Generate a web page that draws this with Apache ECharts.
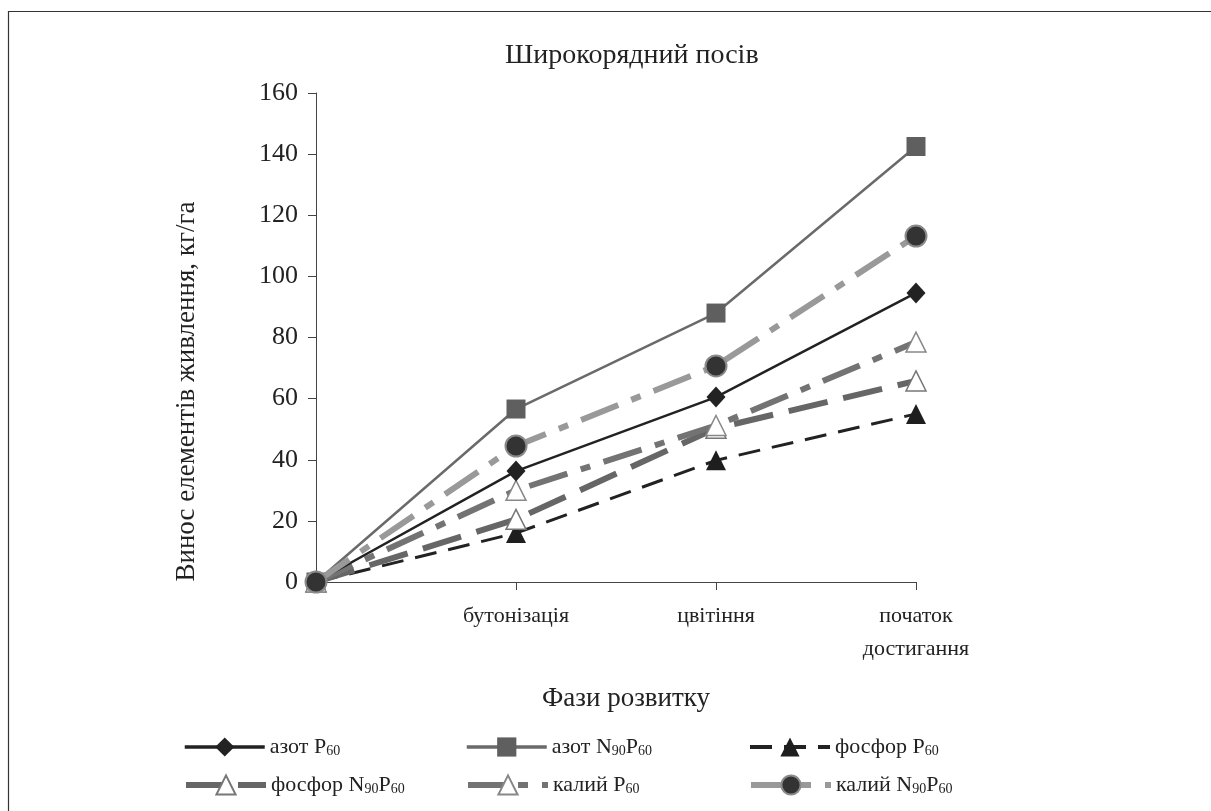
<!DOCTYPE html>
<html>
<head>
<meta charset="utf-8">
<script src="https://cdn.jsdelivr.net/npm/echarts@6/dist/echarts.min.js"></script>
<style>html,body{margin:0;padding:0;background:#fff}#c{width:1211px;height:811px}</style>
</head>
<body>
<div id="c"></div>
<script>
var categories = ['', 'бутонізація', 'цвітіння', 'початок\nдостигання'];
var yTicks = [0, 20, 40, 60, 80, 100, 120, 140, 160];
var azotP60 = [0, 36.3, 60.5, 94.6];
var azotN90P60 = [0, 56.6, 88, 142.5];
var fosforP60 = [0, 16, 39.8, 55];
var fosforN90P60 = [0, 20.5, 50.3, 65.8];
var kaliyP60 = [0, 30, 51.2, 78.5];
var kaliyN90P60 = [0, 44.5, 70.7, 113.2];
var seriesNames = ['азот P60', 'азот N90P60', 'фосфор P60', 'фосфор N90P60', 'калий P60', 'калий N90P60'];
var legendLabels = {
  'азот P60': 'азот P{s|60}',
  'азот N90P60': 'азот N{s|90}P{s|60}',
  'фосфор P60': 'фосфор P{s|60}',
  'фосфор N90P60': 'фосфор N{s|90}P{s|60}',
  'калий P60': 'калий P{s|60}',
  'калий N90P60': 'калий N{s|90}P{s|60}'
};

var FONT = '"Liberation Serif", "DejaVu Serif", serif';
var chart = echarts.init(document.getElementById('c'));

var lineStyles = [
  { color: '#222', width: 3.5 },
  { color: '#6a6a6a', width: 3.5 },
  { color: '#222', width: 4, type: [22, 12] },
  { color: '#666', width: 6, type: [36, 16] },
  { color: '#737373', width: 6, type: [36, 14, 10, 14] },
  { color: '#999', width: 6, type: [36, 14, 10, 14] }
];

function mkLegend(idx, left, top) {
  return {
    data: [seriesNames[idx]], left: left, top: top, orient: 'horizontal',
    itemWidth: 80, itemHeight: 24, itemGap: 4, padding: 0,
    selectedMode: false,
    lineStyle: lineStyles[idx],
    formatter: function (n) { return legendLabels[n]; },
    textStyle: {
      fontFamily: FONT, fontSize: 22, color: '#222',
      rich: { s: { fontFamily: FONT, fontSize: 14, color: '#222', padding: [9, 0, 0, 0] } }
    }
  };
}

var option = {
  backgroundColor: '#fff',
  animation: false,
  title: {
    text: 'Широкорядний посів', left: 505, top: 42, padding: 0,
    textStyle: { fontFamily: FONT, fontSize: 28, fontWeight: 'normal', color: '#222' }
  },
  graphic: [{
    type: 'rect', shape: { x: 8.5, y: 11.5, width: 1220, height: 830 },
    style: { fill: 'none', stroke: '#333', lineWidth: 1.2 }, silent: true
  }],
  legend: [
    mkLegend(0, 183, 736),
    mkLegend(1, 465, 736),
    mkLegend(2, 748, 736),
    mkLegend(3, 183, 774),
    mkLegend(4, 465, 774),
    mkLegend(5, 748, 774)
  ],
  grid: { left: 316, right: 295, top: 93, bottom: 229, containLabel: false },
  xAxis: {
    type: 'category', data: categories, boundaryGap: false,
    name: 'Фази розвитку', nameLocation: 'middle', nameGap: 103,
    nameTextStyle: { fontFamily: FONT, fontSize: 27, color: '#222', padding: [0, 0, 0, 20] },
    axisLine: { lineStyle: { color: '#444', width: 1 } },
    axisTick: { show: true, length: 8, lineStyle: { color: '#444' } },
    axisLabel: { fontFamily: FONT, fontSize: 22, color: '#222', margin: 18, lineHeight: 33, interval: 0 },
    splitLine: { show: false }
  },
  yAxis: {
    type: 'value', min: 0, max: 160, interval: 20,
    name: 'Винос елементів живлення, кг/га', nameLocation: 'middle', nameGap: 116, nameRotate: 90,
    nameTextStyle: { fontFamily: FONT, fontSize: 27, color: '#222', padding: [0, 108, 0, 0] },
    axisLine: { show: true, lineStyle: { color: '#444', width: 1 } },
    axisTick: { show: true, length: 8, inside: false, lineStyle: { color: '#444' } },
    axisLabel: { fontFamily: FONT, fontSize: 26, color: '#222', margin: 18,
      formatter: function (v) { return yTicks.indexOf(v) >= 0 ? String(v) : ''; } },
    splitLine: { show: false }
  },
  series: [
    { name: seriesNames[1], type: 'line', data: azotN90P60, symbol: 'rect', symbolSize: 19, z: 3,
      lineStyle: { color: '#6a6a6a', width: 2.5 }, itemStyle: { color: '#5f5f5f' } },
    { name: seriesNames[0], type: 'line', data: azotP60, symbol: 'diamond', symbolSize: [19, 21], z: 4,
      lineStyle: { color: '#222', width: 2.5 }, itemStyle: { color: '#222' } },
    { name: seriesNames[2], type: 'line', data: fosforP60, symbol: 'triangle', symbolSize: 20, z: 3,
      lineStyle: { color: '#222', width: 3, type: [22, 12] }, itemStyle: { color: '#1e1e1e' } },
    { name: seriesNames[3], type: 'line', data: fosforN90P60, symbol: 'triangle', symbolSize: 20, z: 3,
      lineStyle: { color: '#666', width: 6, type: [40, 16] },
      itemStyle: { color: '#fff', borderColor: '#777', borderWidth: 1.5 } },
    { name: seriesNames[4], type: 'line', data: kaliyP60, symbol: 'triangle', symbolSize: 20, z: 3,
      lineStyle: { color: '#737373', width: 6, type: [40, 14, 10, 14] },
      itemStyle: { color: '#fff', borderColor: '#888', borderWidth: 1.5 } },
    { name: seriesNames[5], type: 'line', data: kaliyN90P60, symbol: 'circle', symbolSize: 21, z: 5,
      lineStyle: { color: '#999', width: 6, type: [40, 14, 10, 14] },
      itemStyle: { color: '#333', borderColor: '#8a8a8a', borderWidth: 2 } }
  ]
};
chart.setOption(option);
</script>
</body>
</html>
